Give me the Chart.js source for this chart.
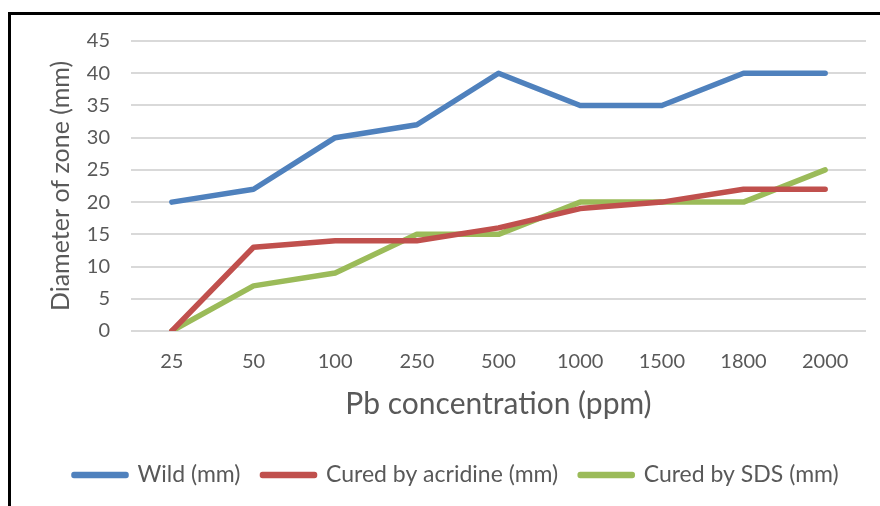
<!DOCTYPE html>
<html>
<head>
<meta charset="utf-8">
<script src="https://cdn.jsdelivr.net/npm/chart.js@4.4.0/dist/chart.umd.min.js"></script>
<style>
  html, body { margin: 0; padding: 0; background: #fff; }
  #wrap { position: relative; width: 880px; height: 506px; overflow: hidden; }
  #frame { position: absolute; left: 8px; top: 12px; width: 900px; height: 520px; border: 3px solid #000; box-sizing: border-box; pointer-events: none; }
  canvas { position: absolute; left: 0; top: 0; }
</style>
</head>
<body>
<div id="wrap">
  <canvas id="c" width="880" height="506"></canvas>
  <div id="frame"></div>
</div>
<script>
const categories = ["25", "50", "100", "250", "500", "1000", "1500", "1800", "2000"];
const wild = [20, 22, 30, 32, 40, 35, 35, 40, 40];
const acridine = [0, 13, 14, 14, 16, 19, 20, 22, 22];
const sds = [0, 7, 9, 15, 15, 20, 20, 20, 25];
const seriesNames = ["Wild (mm)", "Cured by acridine (mm)", "Cured by SDS (mm)"];
const xTitle = "Pb concentration (ppm)";
const yTitle = "Diameter of zone (mm)";

const FONT = "Lato, 'Open Sans', sans-serif";
const TXT = "#595959";

function ds(label, data, color) {
  return {
    label, data,
    borderColor: color, backgroundColor: color,
    borderWidth: 5.5, pointRadius: 0, pointHoverRadius: 0,
    tension: 0, borderCapStyle: 'round', borderJoinStyle: 'round', fill: false
  };
}

const legendShift = {
  id: 'legendShift',
  afterUpdate(chart) {
    const lg = chart.legend;
    if (lg) { lg.left += 52; lg.right += 52; }
  }
};

new Chart(document.getElementById('c'), {
  type: 'line',
  data: {
    labels: categories,
    datasets: [
      ds(seriesNames[0], wild, '#4F81BD'),
      ds(seriesNames[1], acridine, '#C0504D'),
      ds(seriesNames[2], sds, '#9BBB59')
    ]
  },
  plugins: [legendShift],
  options: {
    responsive: false,
    animation: false,
    layout: { padding: { left: 0, right: 14, top: 41, bottom: 9.5 } },
    plugins: {
      tooltip: { enabled: false },
      legend: {
        position: 'bottom',
        align: 'start',
        labels: {
          font: { family: FONT, size: 23 },
          color: TXT,
          boxWidth: 52, boxHeight: 1,
          padding: 22
        }
      }
    },
    scales: {
      x: {
        offset: true,
        grid: { display: false, drawTicks: false },
        border: { display: false },
        ticks: { color: TXT, font: { family: FONT, size: 20 }, padding: 19, maxRotation: 0, autoSkip: false },
        title: { display: true, text: xTitle, color: TXT, font: { family: FONT, size: 30 }, padding: { top: 0, bottom: 19.5 } },
        afterFit: (s) => { s.height = 110.5; }
      },
      y: {
        min: 0, max: 45,
        ticks: { stepSize: 5, color: TXT, font: { family: FONT, size: 20 }, padding: 21 },
        grid: { color: '#D9D9D9', lineWidth: 2, drawTicks: false },
        border: { display: false },
        title: { display: true, text: yTitle, color: TXT, font: { family: FONT, size: 25 }, padding: { top: 46, bottom: 0 } },
        afterFit: (s) => { s.width = 131; }
      }
    }
  }
});
</script>
</body>
</html>
